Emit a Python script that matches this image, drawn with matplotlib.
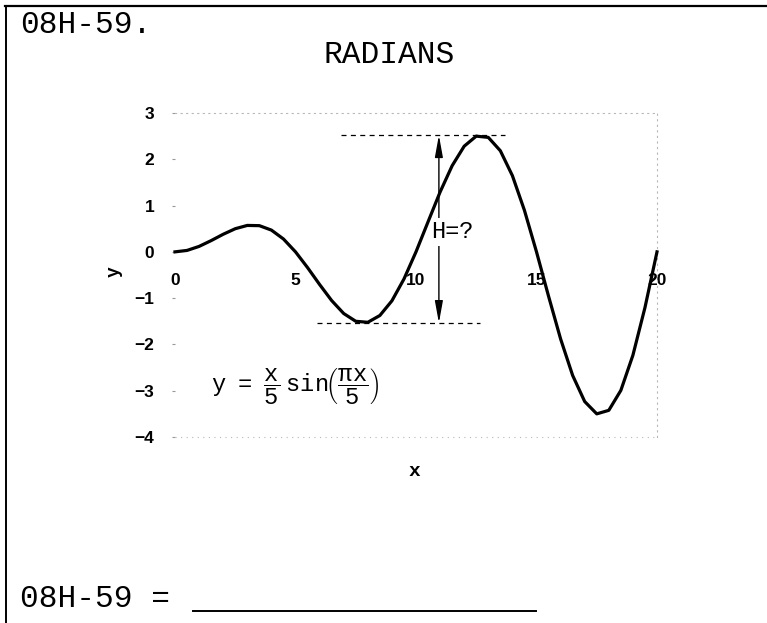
import matplotlib
matplotlib.use('Agg')
import matplotlib.pyplot as plt
from matplotlib.lines import Line2D

plt.rcParams['mathtext.fontset'] = 'custom'
plt.rcParams['mathtext.rm'] = 'Liberation Mono'
plt.rcParams['mathtext.it'] = 'Liberation Mono'
plt.rcParams['mathtext.bf'] = 'Liberation Mono:bold'

# ---- data ----
x_vals = [0.0, 0.5, 1.0, 1.5, 2.0, 2.5, 3.0, 3.5, 4.0, 4.5, 5.0,
          5.5, 6.0, 6.5, 7.0, 7.5, 8.0, 8.5, 9.0, 9.5, 10.0,
          10.5, 11.0, 11.5, 12.0, 12.5, 13.0, 13.5, 14.0, 14.5, 15.0,
          15.5, 16.0, 16.5, 17.0, 17.5, 18.0, 18.5, 19.0, 19.5, 20.0]
y_vals = [0.0, 0.031, 0.118, 0.243, 0.380, 0.500, 0.571, 0.566, 0.470, 0.278, 0.0,
          -0.340, -0.705, -1.052, -1.332, -1.500, -1.522, -1.375, -1.058, -0.587, 0.0,
          0.649, 1.293, 1.861, 2.283, 2.500, 2.473, 2.184, 1.646, 0.896, 0.0,
          -0.958, -1.881, -2.670, -3.234, -3.500, -3.424, -2.993, -2.234, -1.205, 0.0]

x_ticks = [0, 5, 10, 15, 20]
x_tick_labels = ['0', '5', '10', '15', '20']
y_ticks = [-4, -3, -2, -1, 0, 1, 2, 3]

h_top = 2.52
h_bottom = -1.535
top_dash_x = [6.9, 13.7]
bottom_dash_x = [5.9, 12.65]
arrow_x = 10.95

# ---- figure ----
W, H = 767, 623
fig = plt.figure(figsize=(W / 100, H / 100), dpi=100)
fig.patch.set_facecolor('white')

ax = fig.add_axes([175 / W, (H - 437) / H, 482 / W, 324 / H])
ax.set_xlim(0, 20)
ax.set_ylim(-4, 3)

ax.plot(x_vals, y_vals, color='black', lw=2.3, solid_joinstyle='round',
        zorder=3, clip_on=False)

# dashed reference lines
dash = (0, (4, 3.5))
ax.plot(top_dash_x, [h_top, h_top], color='black', lw=0.9, linestyle=dash, zorder=2)
ax.plot(bottom_dash_x, [h_bottom, h_bottom], color='black', lw=0.9, linestyle=dash, zorder=2)

# double arrow
ax.annotate('', xy=(arrow_x, h_top), xytext=(arrow_x, h_bottom),
            arrowprops=dict(arrowstyle='<|-|>,head_length=1.1,head_width=0.2',
                            color='black', lw=1.0, shrinkA=0, shrinkB=0,
                            mutation_scale=12), zorder=2)
ax.text(11.5, 0.43, 'H=?', family='Liberation Mono', fontsize=17,
        ha='center', va='center', zorder=2.5,
        bbox=dict(fc='white', ec='none', pad=1.5))

# formula
ax.text(5.0, -2.92,
        r'$\mathrm{y\ \ =\ \ \dfrac{x}{5}\ sin\!\left(\dfrac{\pi x}{5}\right)}$',
        fontsize=17, ha='center', va='center', zorder=4)

# spines / frame
ax.spines['left'].set_visible(False)
ax.spines['bottom'].set_position(('data', 0))
ax.spines['bottom'].set_visible(False)
for s in ['top', 'right']:
    ax.spines[s].set_linestyle((0, (1, 4)))
    ax.spines[s].set_color('#b8b8b8')
    ax.spines[s].set_linewidth(0.8)
ax.axhline(-4, color='#b8b8b8', lw=0.8, linestyle=(0, (1, 4)), clip_on=False)

ax.set_xticks(x_ticks)
ax.set_xticklabels(x_tick_labels)
ax.set_yticks(y_ticks)
ax.tick_params(axis='x', length=0, pad=15, labelsize=12.5)
ax.tick_params(axis='y', length=2, width=0.8, color='#999999', pad=13, labelsize=12.5)
for lab in ax.get_xticklabels() + ax.get_yticklabels():
    lab.set_family('Liberation Sans')
    lab.set_fontweight('bold')
    lab.set_zorder(1)

# axis labels
fig.text(114 / W, 1 - 272 / H, 'y', family='Liberation Mono', fontweight='bold',
         fontsize=13, rotation=90, ha='center', va='center')
fig.text(414 / W, 1 - 472 / H, 'x', family='Liberation Mono', fontweight='bold',
         fontsize=14, ha='center', va='center')

# page texts
fig.text(20 / W, 1 - 33 / H, '08H-59.', family='Liberation Mono', fontsize=22.5,
         ha='left', va='baseline')
fig.text(389 / W, 1 - 63 / H, 'RADIANS', family='Liberation Mono', fontsize=22.5,
         ha='center', va='baseline')
fig.text(20 / W, 1 - 607 / H, '08H-59 =', family='Liberation Mono', fontsize=22.5,
         ha='left', va='baseline')
fig.add_artist(Line2D([193 / W, 536 / W], [1 - 611 / H, 1 - 611 / H],
                      transform=fig.transFigure, color='black', lw=1.4))

# border
fig.add_artist(Line2D([5 / W, 1.0], [1 - 6 / H, 1 - 6 / H],
                      transform=fig.transFigure, color='black', lw=1.6))
fig.add_artist(Line2D([5.5 / W, 5.5 / W], [0.0, 1 - 6 / H],
                      transform=fig.transFigure, color='black', lw=1.4))

fig.savefig('out.png', dpi=100, facecolor='white')
